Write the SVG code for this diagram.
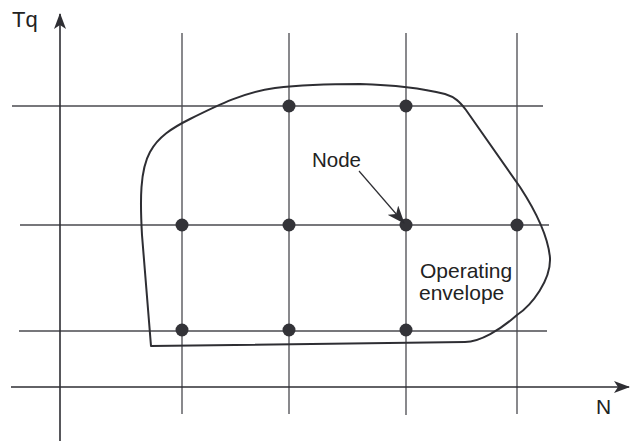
<svg xmlns="http://www.w3.org/2000/svg" width="644" height="442" viewBox="0 0 644 442">
  <defs>
    <style>
      .axis { stroke: #2e2e33; stroke-width: 1.6; fill: none; }
      .grid { stroke: #4a4a4f; stroke-width: 1.3; fill: none; }
      .env { stroke: #2e2e33; stroke-width: 2; fill: none; stroke-linejoin: round; }
      .dot { fill: #333338; }
      .lbl { font-family: "Liberation Sans", Arial, sans-serif; fill: #222; }
      .lead { stroke: #2e2e33; stroke-width: 1.2; fill: none; }
    </style>
    <marker id="barb" viewBox="0 0 16 12" refX="15" refY="6" markerWidth="16" markerHeight="12" markerUnits="userSpaceOnUse" orient="auto">
      <path d="M0,0 L16,6 L0,12 L4,6 Z" fill="#2e2e33"/>
    </marker>
    <marker id="barb-lg" viewBox="0 0 18 14" refX="17" refY="7" markerWidth="18" markerHeight="14" markerUnits="userSpaceOnUse" orient="auto">
      <path d="M0,0 L18,7 L0,14 L5,7 Z" fill="#2e2e33"/>
    </marker>
  </defs>
  <rect width="644" height="442" fill="#ffffff"/>

  <!-- grid lines -->
  <g id="grid">
    <line class="grid" x1="182" y1="33" x2="182" y2="414"/>
    <line class="grid" x1="289" y1="33" x2="289" y2="414"/>
    <line class="grid" x1="406" y1="33" x2="406" y2="415"/>
    <line class="grid" x1="517" y1="33" x2="517" y2="414"/>
    <line class="grid" x1="12" y1="106" x2="543" y2="106"/>
    <line class="grid" x1="20" y1="225" x2="549" y2="225"/>
    <line class="grid" x1="19" y1="331" x2="547" y2="331"/>
  </g>

  <!-- axes -->
  <g id="axes">
    <line class="axis" x1="60" y1="441" x2="60" y2="14" marker-end="url(#barb)"/>
    <line class="axis" x1="11" y1="387" x2="629" y2="387" marker-end="url(#barb)"/>
    <text class="lbl" x="12" y="27" font-size="22">Tq</text>
    <text class="lbl" x="596" y="414" font-size="21">N</text>
  </g>

  <!-- operating envelope -->
  <g id="envelope">
    <path class="env" d="M151,346 L142,235 C140,200 140,170 150,152 C158,137 172,128 190,119 C220,104 245,92 275,88 C300,85 330,84 360,84 C395,85 425,89 445,94 C455,97 460,102 466,110 L520,187 C535,210 548,235 550,258 C551,280 532,305 517,315 C500,330 480,342 465,342 Z"/>
    <text class="lbl" x="420" y="278" font-size="21">Operating</text>
    <text class="lbl" x="419" y="300" font-size="21">envelope</text>
  </g>

  <!-- grid nodes -->
  <g id="nodes">
    <circle class="dot" cx="289" cy="106" r="6.5"/>
    <circle class="dot" cx="406" cy="106" r="6.5"/>
    <circle class="dot" cx="182" cy="225" r="6.5"/>
    <circle class="dot" cx="289" cy="225" r="6.5"/>
    <circle class="dot" cx="406" cy="225" r="6.5"/>
    <circle class="dot" cx="517" cy="225" r="6.5"/>
    <circle class="dot" cx="182" cy="330" r="6.5"/>
    <circle class="dot" cx="289" cy="330" r="6.5"/>
    <circle class="dot" cx="406" cy="330" r="6.5"/>
  </g>

  <!-- node callout -->
  <g id="node-label">
    <text class="lbl" x="312" y="167" font-size="20.5">Node</text>
  </g>
  <g id="connectors">
    <line class="lead" x1="359" y1="171" x2="404" y2="223" marker-end="url(#barb-lg)"/>
  </g>
</svg>
